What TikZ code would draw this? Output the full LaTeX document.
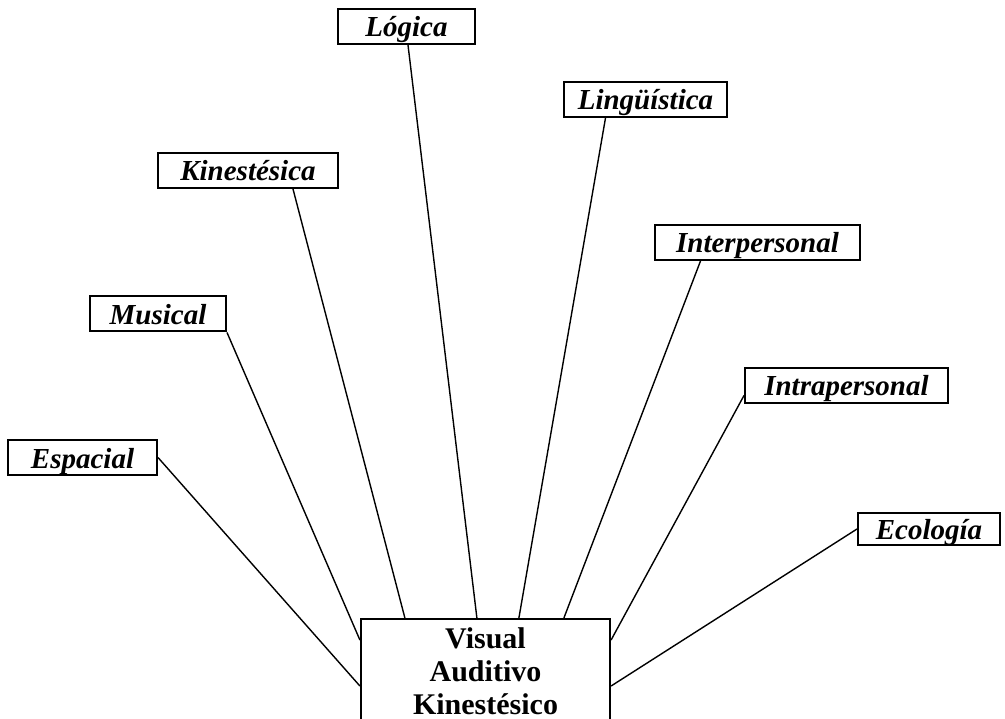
\documentclass[tikz,border=0pt]{standalone}
\usepackage{fontspec}
\setmainfont{Liberation Serif}
\usepackage{tikz}

\begin{document}
\begin{tikzpicture}[x=1pt,y=-1pt,
		tipo/.style = {draw, line width = 2pt, inner sep = 0pt, minimum height = 35pt,
			text height = 23pt, text depth = 2pt,
			font = \bfseries\itshape\fontsize{29}{32}\selectfont},
		enlace/.style = {line width = 1.4pt}]
		\useasboundingbox (0, 0) rectangle (1005, 719);
		%%%%%%%%%%%%%
		\node [tipo, minimum width = 137pt] (logica) at (406.5, 26.5) {Lógica};
		\node [tipo, minimum width = 163pt] (linguistica) at (645.5, 99.5) {Lingüística};
		\node [tipo, minimum width = 180pt] (kinestesica) at (248, 170.5) {Kinestésica};
		\node [tipo, minimum width = 205pt] (interpersonal) at (757.5, 242.5) {Interpersonal};
		\node [tipo, minimum width = 136pt] (musical) at (158, 314) {Musical};
		\node [tipo, minimum width = 203pt] (intrapersonal) at (846.5, 385.5) {Intrapersonal};
		\node [tipo, minimum width = 149pt] (espacial) at (82.5, 457.5) {Espacial};
		\node [tipo, minimum width = 142pt, minimum height = 32pt] (ecologia) at (929, 529) {Ecología};
		\node [draw, line width = 2.2pt, anchor = north, minimum width = 249pt, inner ysep = 8.5pt,
			align = center, font = \bfseries\fontsize{30}{33}\selectfont] (vak) at (485.5, 618)
			{Visual\\Auditivo\\Kinestésico\\\strut};
		%%%%%%%%%%%%%
		\draw [enlace] (espacial.east) to ([yshift = -68pt] vak.north west);
		\draw [enlace] (musical.south east) to ([yshift = -22pt] vak.north west);
		\draw [enlace] ([xshift = 45pt] kinestesica.south) to ([xshift = 45pt] vak.north west);
		\draw [enlace] ([xshift = 1.5pt] logica.south) to ([xshift = 117pt] vak.north west);
		\draw [enlace] ([xshift = -40pt] linguistica.south) to ([xshift = 159pt] vak.north west);
		\draw [enlace] ([xshift = -57pt] interpersonal.south) to ([xshift = 204pt] vak.north west);
		\draw [enlace] ([yshift = -10pt] intrapersonal.west) to ([yshift = -22pt] vak.north east);
		\draw [enlace] (ecologia.west) to ([yshift = -68pt] vak.north east);
	\end{tikzpicture}
\end{document}
